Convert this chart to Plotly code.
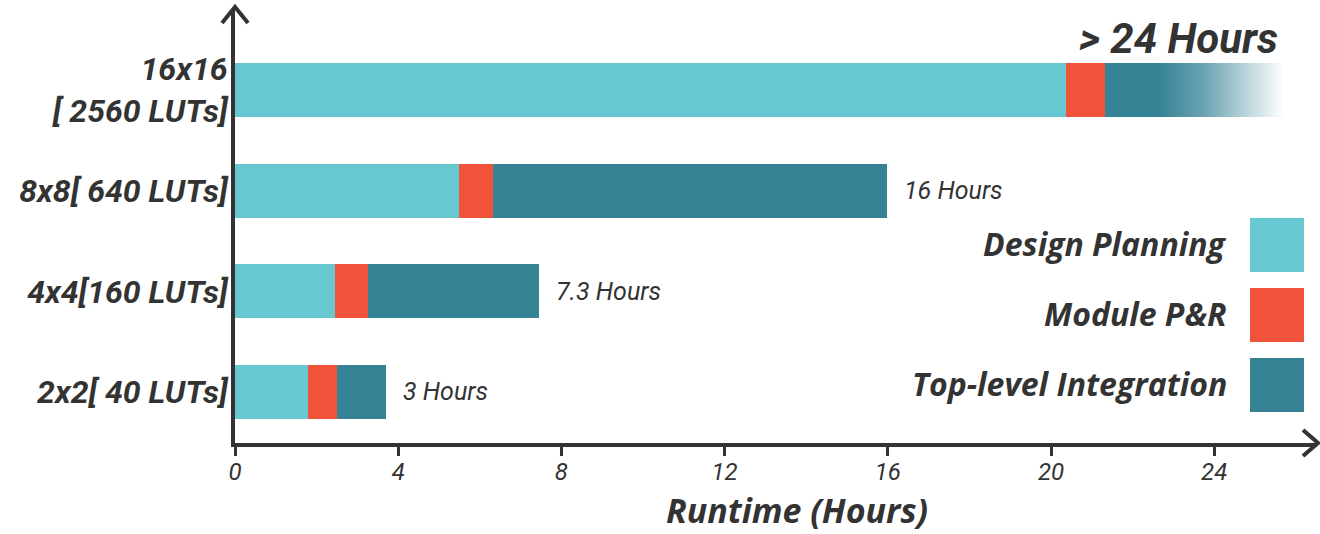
import plotly.graph_objects as go

# ---------------- data ----------------
categories = ["2x2[ 40 LUTs]", "4x4[160 LUTs]", "8x8[ 640 LUTs]", "16x16<br>[ 2560 LUTs]"]
design_planning = [1.79, 2.45, 5.49, 20.37]
module_pr = [0.71, 0.81, 0.83, 0.95]
top_level = [1.20, 4.19, 9.66, 1.35]
fade_end = 25.7          # 16x16 run fades out beyond this (> 24 hours)
end_labels = ["3 Hours", "7.3 Hours", "16 Hours", "> 24 Hours"]
series_names = ["Design Planning", "Module P&R", "Top-level Integration"]
series_colors = ["#67C8D1", "#F0533A", "#378396"]
x_ticks = [0, 4, 8, 12, 16, 20, 24]

# ---------------- styling ----------------
TXT = "#333333"
NARROW = "Roboto, Liberation Sans Narrow, sans-serif"
WIDE = "Open Sans, Noto Sans, sans-serif"
BAR_W = 0.536

# plot area in page pixels
L, R, T, B = 235, 1315, 10, 443
W, H = 1320, 534


def px(x):
    return (x - L) / (R - L)


def py(y):
    return (B - y) / (B - T)


ypos = list(range(len(categories)))

fig = go.Figure()
for name, vals, col in zip(series_names, [design_planning, module_pr, top_level], series_colors):
    fig.add_trace(go.Bar(
        y=ypos, x=vals, name=name, orientation="h", width=BAR_W,
        marker=dict(color=col, line=dict(width=0)), showlegend=False,
    ))

# fading tail of the longest run
last = len(categories) - 1
start = design_planning[last] + module_pr[last] + top_level[last]
fig.add_trace(go.Scatter(
    x=[start, fade_end, fade_end, start, start],
    y=[last - BAR_W / 2, last - BAR_W / 2, last + BAR_W / 2, last + BAR_W / 2, last - BAR_W / 2],
    mode="lines", line=dict(width=0), fill="toself",
    fillgradient=dict(type="horizontal",
                      colorscale=[[0, "rgba(55,131,150,1)"], [0.35, "rgba(55,131,150,0.75)"],
                                  [1, "rgba(55,131,150,0)"]]),
    showlegend=False, hoverinfo="skip",
))

annotations = []
totals = [d + m + t for d, m, t in zip(design_planning, module_pr, top_level)]
for i in range(last):
    annotations.append(dict(
        x=totals[i], y=i, xref="x", yref="y", text=end_labels[i], showarrow=False,
        xanchor="left", yanchor="middle", xshift=15,
        font=dict(family=NARROW, size=25, color=TXT, style="italic"),
    ))
annotations.append(dict(
    x=fade_end, y=last, xref="x", yref="y", text=end_labels[last], showarrow=False,
    xanchor="right", yanchor="middle", yshift=52, xshift=-4,
    font=dict(family=NARROW, size=42, color=TXT, style="italic", weight="bold"),
))

# legend (custom, text left of swatch)
shapes = []
leg_tops = [218, 288, 358]
for name, col, top in zip(series_names, series_colors, leg_tops):
    shapes.append(dict(type="rect", xref="paper", yref="paper",
                       x0=px(1250), x1=px(1304), y0=py(top + 54), y1=py(top),
                       fillcolor=col, line=dict(width=0)))
    annotations.append(dict(
        x=px(1229), y=py(top + 25), xref="paper", yref="paper", text=name, showarrow=False,
        xanchor="right", yanchor="middle",
        font=dict(family=WIDE, size=32, color=TXT, style="italic", weight="bold"),
    ))

# axis title
annotations.append(dict(
    x=px(797), y=py(534), xref="paper", yref="paper", text="Runtime (Hours)", showarrow=False,
    xanchor="center", yanchor="bottom", borderpad=0,
    font=dict(family=WIDE, size=34, color=TXT, style="italic", weight="bold"),
))

# axis arrow heads (open chevrons)
shapes.append(dict(type="path", xref="paper", yref="paper",
                   path=f"M {px(222)} {py(23)} L {px(235)} {py(7)} L {px(248)} {py(23)}",
                   line=dict(color=TXT, width=4)))
shapes.append(dict(type="line", xref="paper", yref="paper",
                   x0=0, x1=0, y0=1, y1=py(8), line=dict(color=TXT, width=4)))
shapes.append(dict(type="path", xref="paper", yref="paper",
                   path=f"M {px(1303)} {py(430)} L {px(1318)} {py(443)} L {px(1303)} {py(456)}",
                   line=dict(color=TXT, width=4)))
shapes.append(dict(type="line", xref="paper", yref="paper",
                   x0=1, x1=px(1317), y0=0, y1=0, line=dict(color=TXT, width=4)))

fig.update_layout(
    width=W, height=H, barmode="stack",
    margin=dict(l=L, r=W - R, t=T, b=H - B),
    plot_bgcolor="white", paper_bgcolor="white",
    annotations=annotations, shapes=shapes,
    xaxis=dict(range=[0, (R - L) / 40.8], tickvals=x_ticks, ticktext=[str(v) for v in x_ticks],
               automargin=False,
               showgrid=False, zeroline=False, showline=True, linewidth=4, linecolor=TXT,
               ticks="outside", ticklen=9, tickwidth=3, tickcolor=TXT, ticklabelstandoff=-5,
               tickfont=dict(family=NARROW, size=24, color=TXT, style="italic")),
    yaxis=dict(range=[-0.507, 3.795], tickvals=ypos, ticktext=categories,
               automargin=False,
               showgrid=False, zeroline=False, showline=True, linewidth=4, linecolor=TXT,
               ticks="", ticklabelstandoff=-3,
               tickfont=dict(family=NARROW, size=32, color=TXT, style="italic", weight="bold")),
)

fig.write_html("out.html")
